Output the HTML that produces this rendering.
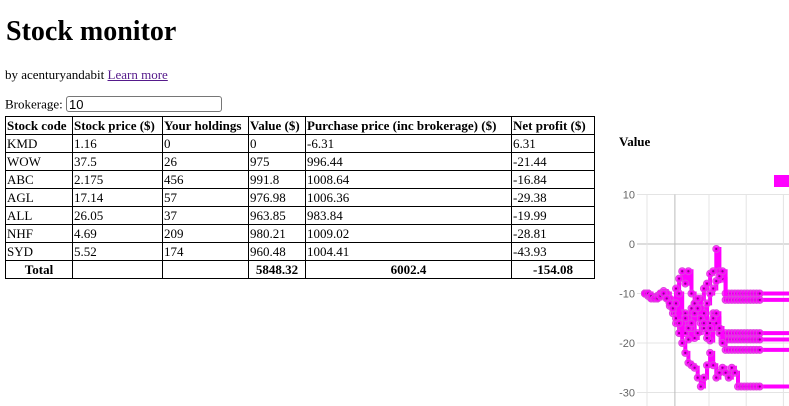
<!DOCTYPE html>
<html><head><meta charset="utf-8"><style>
body{margin:0;width:789px;height:406px;overflow:hidden;background:#fff;font-family:"Liberation Serif",serif;color:#000;position:relative}
h1{position:absolute;left:6px;top:14px;margin:0;font-size:28px;font-weight:bold;line-height:36px}
#by{position:absolute;left:5px;top:67px;font-size:13px}
#by a{color:#551a8b}
#brk{position:absolute;left:5px;top:96px;font-size:13px}
#brk input{width:150px;height:14px;font-size:13px;font-family:"Liberation Sans",sans-serif;border:1px solid #767676;border-radius:3px;padding:0 2px;margin:0}
table{position:absolute;left:5px;top:116px;border-collapse:collapse;font-size:13px}
td,th{border:1px solid #000;height:17px;padding:0 1px;white-space:nowrap;text-align:left;line-height:16px}
th{font-weight:bold}
tr.tot td{font-weight:bold;text-align:center}
#vt{position:absolute;left:619px;top:134px;font-size:13px;font-weight:bold}
svg{position:absolute;left:0;top:0}
</style></head><body>
<h1>Stock monitor</h1>
<div id="by">by acenturyandabit <a href="#">Learn more</a></div>
<div id="brk">Brokerage: <input value="10"></div>
<table>
<tr><th style="width:64px">Stock code</th><th style="width:87px">Stock price ($)</th><th style="width:83px">Your holdings</th><th style="width:54px">Value ($)</th><th style="width:203px">Purchase price (inc brokerage) ($)</th><th style="width:80px">Net profit ($)</th></tr>
<tr><td>KMD</td><td>1.16</td><td>0</td><td>0</td><td>-6.31</td><td>6.31</td></tr>
<tr><td>WOW</td><td>37.5</td><td>26</td><td>975</td><td>996.44</td><td>-21.44</td></tr>
<tr><td>ABC</td><td>2.175</td><td>456</td><td>991.8</td><td>1008.64</td><td>-16.84</td></tr>
<tr><td>AGL</td><td>17.14</td><td>57</td><td>976.98</td><td>1006.36</td><td>-29.38</td></tr>
<tr><td>ALL</td><td>26.05</td><td>37</td><td>963.85</td><td>983.84</td><td>-19.99</td></tr>
<tr><td>NHF</td><td>4.69</td><td>209</td><td>980.21</td><td>1009.02</td><td>-28.81</td></tr>
<tr><td>SYD</td><td>5.52</td><td>174</td><td>960.48</td><td>1004.41</td><td>-43.93</td></tr>
<tr class="tot"><td>Total</td><td></td><td></td><td>5848.32</td><td>6002.4</td><td>-154.08</td></tr>
</table>
<div id="vt">Value</div>
<svg id="c" width="789" height="406"></svg>
<script>
const yTicks=[10,0,-10,-20,-30];
const xGrid=[0,9,20,32,44];
const s1=[-10,-10,-10.5,-11,-10.5,-10,-9.5,-10,-11,-12,-9,-7,-5.5,-8,-5.5,-10,-12,-13,-11,-9,-8,-6,-5.5,-1,-5.5,-7,-10,-10,-10,-10,-10,-10,-10,-10,-10,-10,-10,-10];
const s2=[-10,-10.5,-11,-11,-10.5,-10,-10,-11,-12,-13,-12,-10,-14,-16,-15,-13,-12,-11,-13,-15,-12,-10,-9,-7.5,-6.5,-5.5,-11.3,-11.3,-11.3,-11.3,-11.3,-11.3,-11.3,-11.3,-11.3,-11.3,-11.3,-11.3];
const s3=[-10,-10,-11,-11,-11,-10,-10,-11,-12,-14,-16,-18,-16,-14,-15,-17,-19,-18,-16,-14,-17,-19.5,-17,-15,-17,-19,-18,-18,-18,-18,-18,-18,-18,-18,-18,-18,-18,-18];
const s4=[-10,-10,-10.5,-11,-11,-10.5,-10,-11,-12.5,-13,-14,-15,-17,-18,-19.3,-17,-15,-13,-15,-17,-19,-16,-14,-16,-18,-19.5,-19.3,-19.3,-19.3,-19.3,-19.3,-19.3,-19.3,-19.3,-19.3,-19.3,-19.3,-19.3];
const s5=[-10,-10,-10.5,-11,-11,-10,-10,-11,-12,-13,-15,-14,-16,-15,-17,-16,-14,-13,-15,-16,-18,-17,-15,-14,-17,-20,-21.4,-21.4,-21.4,-21.4,-21.4,-21.4,-21.4,-21.4,-21.4,-21.4,-21.4,-21.4];
const s6=[-10,-10,-10.5,-11,-11,-10.5,-10,-11,-12,-13,-12,-16,-20,-22,-24,-24.5,-25,-27,-28.8,-27,-24.5,-22,-24.5,-27,-26,-25,-26,-27,-25,-26,-28.8,-28.8,-28.8,-28.8,-28.8,-28.8,-28.8,-28.8];
const series=[s1,s2,s3,s4,s5,s6];
const svg=document.getElementById('c');const NS='http://www.w3.org/2000/svg';
const X=i=>645+i*3.1, Y=v=>244-v*4.95;
function mk(t,a){const e=document.createElementNS(NS,t);for(const k in a)e.setAttribute(k,a[k]);svg.appendChild(e);return e;}
yTicks.forEach(v=>{const l=mk('line',{x1:637,x2:789,y1:Y(v),y2:Y(v),stroke:v===0?'#bbb':'#e4e4e4'});


const t=mk('text',{x:635,y:Y(v)+4,'text-anchor':'end','font-size':'11','font-family':'Liberation Sans,sans-serif',fill:'#666'});t.textContent=v;

});
xGrid.forEach((g,k)=>{const l=mk('line',{x1:X(g)+2,x2:X(g)+2,y1:Y(10),y2:406,stroke:k===1?'#bbb':'#e4e4e4'});

});
series.forEach((s,si)=>{let d='M'+X(0)+' '+Y(s[0]);for(let i=1;i<s.length;i++){d+=' H'+X(i)+' V'+Y(s[i]);}d+=' H789';
const p=mk('path',{d:d,fill:'none',stroke:'#f0f',"stroke-width":4});


s.forEach((v,i)=>{const c=mk('circle',{cx:X(i),cy:Y(v),r:3.5,fill:'#f0f','fill-opacity':0.7,stroke:'#d4d','stroke-width':1});


const d2=mk('circle',{cx:X(i),cy:Y(v),r:1.1,fill:'#808'});

});});
const lg=mk('rect',{x:774,y:175,width:15,height:12,fill:'#f0f'});


</script>
</body></html>
